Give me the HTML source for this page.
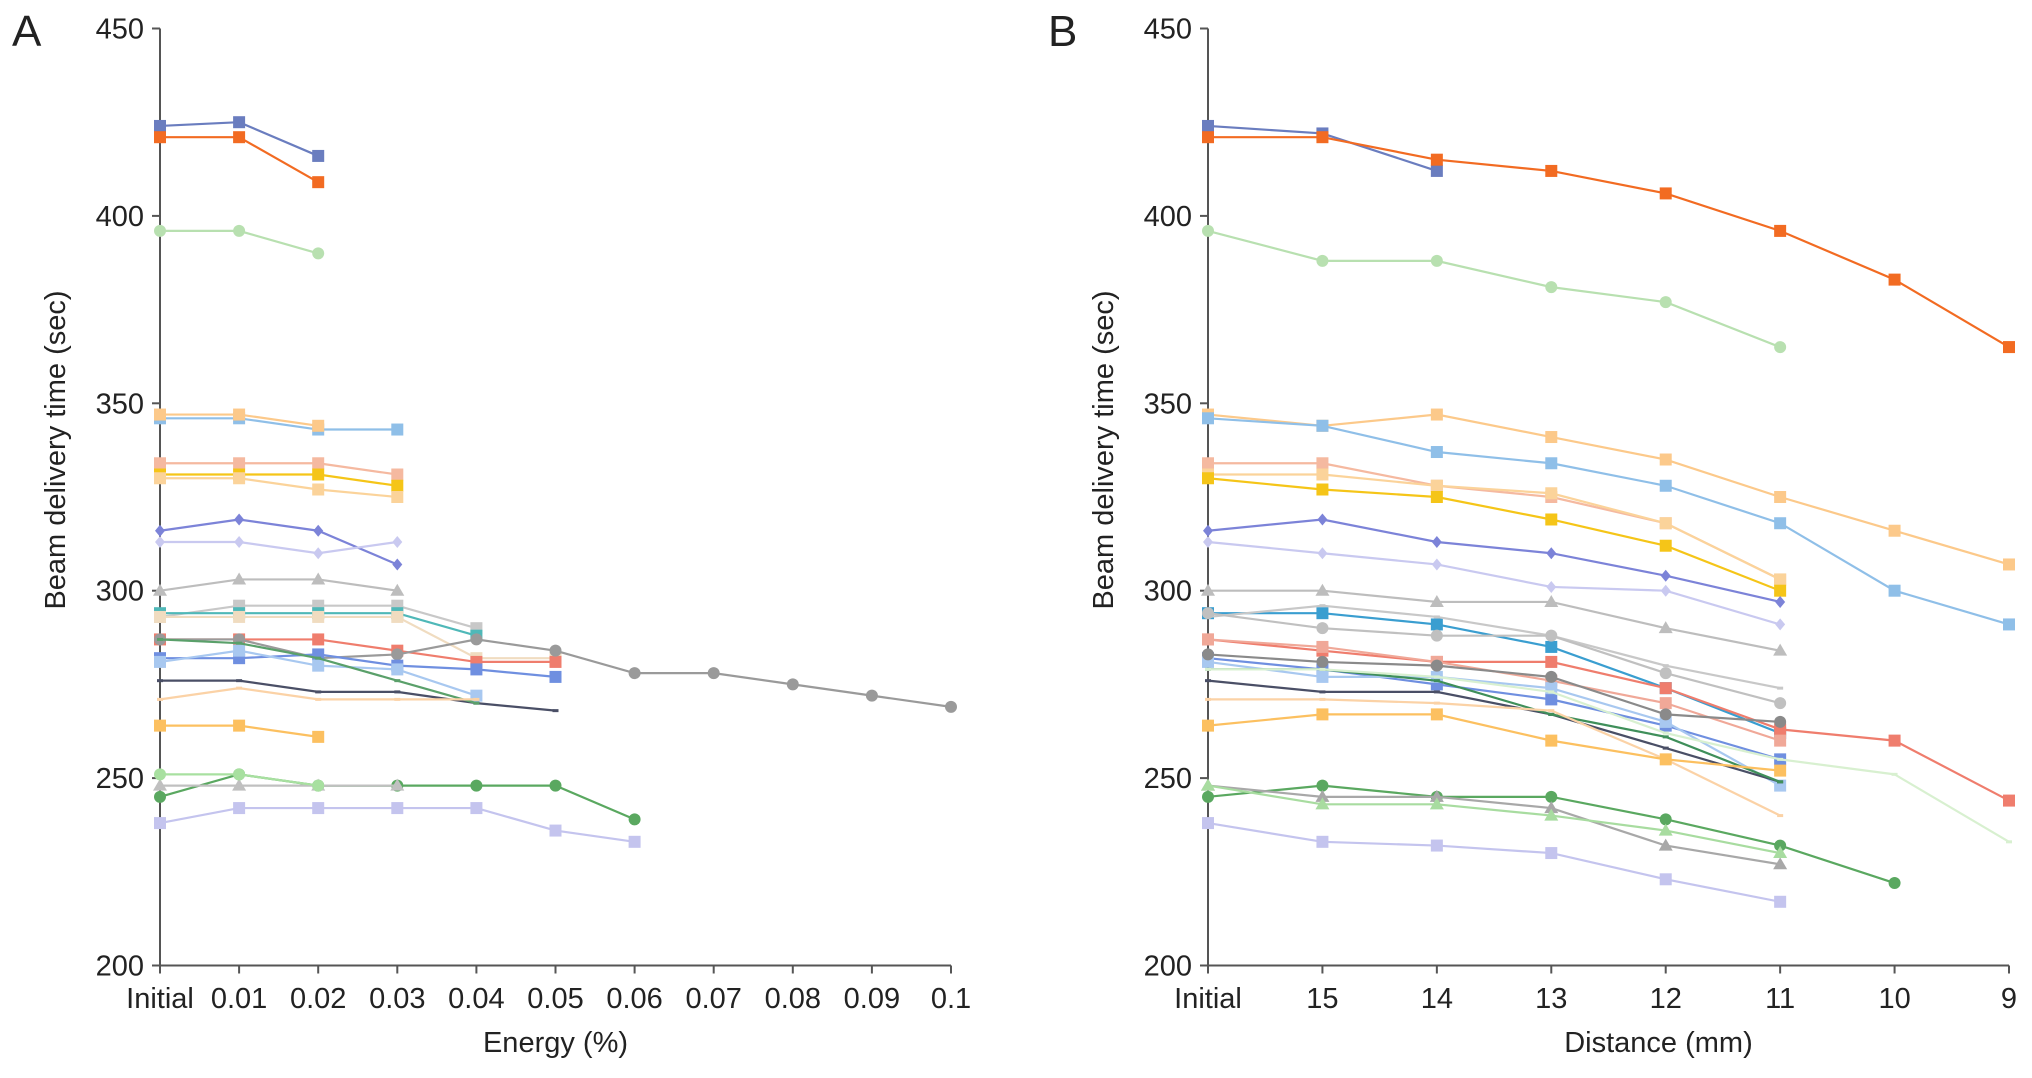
<!DOCTYPE html>
<html><head><meta charset="utf-8">
<style>
html,body{margin:0;padding:0;background:#fff;}
svg text{font-family:"Liberation Sans",Arial,sans-serif;fill:#222;}
</style></head>
<body>
<svg id="chart" width="2032" height="1073" viewBox="0 0 2032 1073" xmlns="http://www.w3.org/2000/svg"></svg>
<script>
// ---------- Panel A data ----------
const catsA = ["Initial","0.01","0.02","0.03","0.04","0.05","0.06","0.07","0.08","0.09","0.1"];
const yTicks = [200,250,300,350,400,450];
const seriesA_values = [
  [424,425,416],[421,421,409],[396,396,390],[346,346,343,343],[347,347,344],
  [334,334,334,331],[331,331,331,328],[330,330,327,325],[316,319,316,307],[313,313,310,313],
  [300,303,303,300],[293,296,296,296,290],[294,294,294,294,288],[293,293,293,293,282,282],
  [287,287,287,284,281,281],[287,287,282,283,287,284,278,278,275,272,269],
  [282,282,283,280,279,277],[281,284,280,279,272],[276,276,273,273,270,268],
  [287,286,282,276,270],[271,274,271,271,271],[264,264,261],
  [245,251,248,248,248,248,239],[248,248,248,248],[238,242,242,242,242,236,233],[251,251,248]
];
const seriesA_colors = ["#6a7dbf","#f26b22","#b8e0b0","#8fbfe8","#fcc98a","#f5b9a0","#f5c518","#fbd39a","#7c83d8","#c9c9f0",
  "#bdbdbd","#c8c8c8","#4fb8b8","#f0dcc0","#ef7d6d","#9a9a9a","#6f8fe0","#a8c8f0","#4a4f66","#5aa06a","#fbd2a6","#fcc060",
  "#5aa860","#c0c0c0","#c4c4ee","#a8e0a0"];
const seriesA_markers = ["s","s","c","s","s","s","s","s","d","d","t","s","s","s","s","c","s","s","n","n","n","s","c","t","s","c"];
// ---------- Panel B data ----------
const catsB = ["Initial","15","14","13","12","11","10","9"];
const seriesB_values = [
  [424,422,412],[421,421,415,412,406,396,383,365],[396,388,388,381,377,365],
  [347,344,347,341,335,325,316,307],[346,344,337,334,328,318,300,291],
  [334,334,328,325,318,303],[331,331,328,326,318,303],[330,327,325,319,312,300],
  [316,319,313,310,304,297],[313,310,307,301,300,291],[300,300,297,297,290,284],
  [294,294,291,285,274,262],[293,296,293,288,280,274],[294,290,288,288,278,270],
  [287,284,281,281,274,263,260,244],[287,285,281,276,270,260],[282,279,275,271,264,255],
  [281,277,277,274,265,248],[276,273,273,267,258,249],[279,279,276,267,261,249],
  [283,281,280,277,267,265],[271,271,270,268,255,240],[264,267,267,260,255,252],
  [279,279,277,273,262,255,251,233],[245,248,245,245,239,232,222],[248,245,245,242,232,227],
  [248,243,243,240,236,230],[238,233,232,230,223,217]
];
const seriesB_colors = ["#6a7dbf","#f26b22","#b8e0b0","#fcc98a","#8fbfe8","#f5b9a0","#fbd39a","#f5c518","#7c83d8","#c9c9f0",
  "#bdbdbd","#3a9ed0","#c8c8c8","#c0c0c0","#ef7d6d","#f0a898","#6f8fe0","#a8c8f0","#4a4f66","#3f8f5a","#8a8a8a","#fbd2a6","#fcc060",
  "#d8f0d0","#5aa860","#a8a8a8","#a8dca0","#c4c4ee"];
const seriesB_markers = ["s","s","c","s","s","s","s","s","d","d","t","s","n","c","s","s","s","s","n","n","c","n","s","n","c","t","t","s"];

const NS="http://www.w3.org/2000/svg";
const svg=document.getElementById('chart');
function mk(tag,attrs,parent){const e=document.createElementNS(NS,tag);for(const k in attrs)e.setAttribute(k,attrs[k]);(parent||svg).appendChild(e);return e;}

function panel(opts){
  const {x0,x1,cats,vals,colors,markers,title,letter,letterX,name,titleShift}=opts;
  const yTop=28.5,yBot=965.5;
  const g=mk('g',{});
  
  
  const xs=i=>x0+(x1-x0)*i/(cats.length-1);
  const ys=v=>yBot-(v-200)/(250)*(yBot-yTop);
  const ya=mk('line',{x1:x0,y1:yTop,x2:x0,y2:yBot,stroke:'#555','stroke-width':2},g);
  
  const xa=mk('line',{x1:x0,y1:yBot,x2:x1,y2:yBot,stroke:'#555','stroke-width':2},g);
  
  yTicks.forEach(t=>{
    mk('line',{x1:x0-8,y1:ys(t),x2:x0,y2:ys(t),stroke:'#555','stroke-width':2},g);
    const tx=mk('text',{x:x0-16,y:ys(t)+10,'text-anchor':'end','font-size':29},g);
    tx.textContent=t;
    
  });
  cats.forEach((c,i)=>{
    mk('line',{x1:xs(i),y1:yBot,x2:xs(i),y2:yBot+8,stroke:'#555','stroke-width':2},g);
    const tx=mk('text',{x:xs(i),y:1008,'text-anchor':'middle','font-size':29},g);
    tx.textContent=c;
    
  });
  const xt=mk('text',{x:(x0+x1)/2+titleShift,y:1052,'text-anchor':'middle','font-size':29},g);
  xt.textContent=title;
  
  const yt=mk('text',{x:0,y:0,'text-anchor':'middle','font-size':29,transform:`translate(${x0-95},${(yTop+yBot)/2-47}) rotate(-90)`},g);
  yt.textContent='Beam delivery time (sec)';
  
  const lt=mk('text',{x:letterX,y:46,'font-size':44},g);
  lt.textContent=letter;
  
  vals.forEach((s,k)=>{
    const sg=mk('g',{},g);
    
    
    const col=colors[k];
    const pts=s.map((v,i)=>xs(i)+','+ys(v)).join(' ');
    const pl=mk('polyline',{points:pts,fill:'none',stroke:col,'stroke-width':2.2},sg);
    
    s.forEach((v,i)=>{
      const cx=xs(i),cy=ys(v);let m;
      const mt=markers[k];
      if(mt==='s') m=mk('rect',{x:cx-6,y:cy-6,width:12,height:12,fill:col},sg);
      else if(mt==='c') m=mk('circle',{cx,cy,r:6,fill:col},sg);
      else if(mt==='d') m=mk('polygon',{points:`${cx},${cy-6} ${cx+5},${cy} ${cx},${cy+6} ${cx-5},${cy}`,fill:col},sg);
      else if(mt==='t') m=mk('polygon',{points:`${cx},${cy-7} ${cx+7},${cy+5} ${cx-7},${cy+5}`,fill:col},sg);
      else m=mk('rect',{x:cx-3,y:cy-1.5,width:6,height:3,fill:col},sg);
      
      
    });
  });
}
panel({x0:160,x1:951,cats:catsA,vals:seriesA_values,colors:seriesA_colors,markers:seriesA_markers,title:'Energy (%)',letter:'A',letterX:12,name:'panel-a',titleShift:0});
panel({x0:1208,x1:2009,cats:catsB,vals:seriesB_values,colors:seriesB_colors,markers:seriesB_markers,title:'Distance (mm)',letter:'B',letterX:1048,name:'panel-b',titleShift:50});
</script>
</body></html>
